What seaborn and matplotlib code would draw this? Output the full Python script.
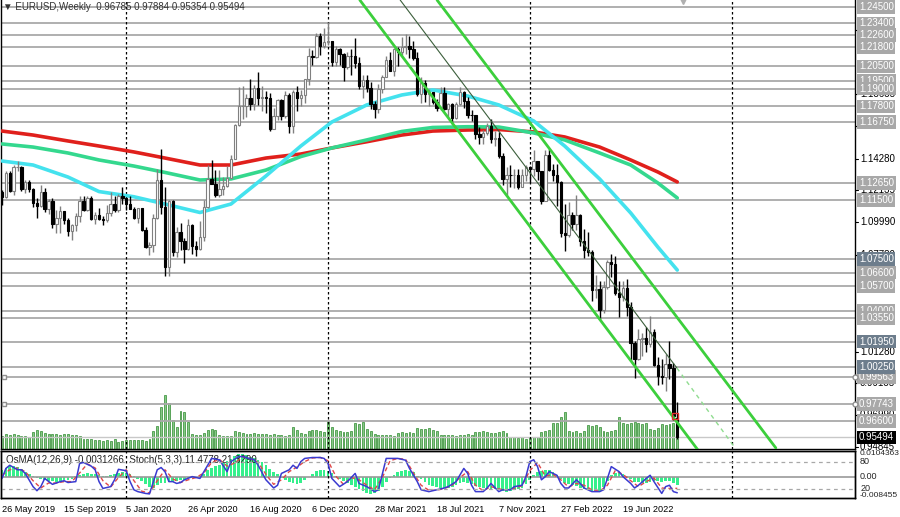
import numpy as np
import pandas as pd
import matplotlib
matplotlib.use("Agg")
import matplotlib.pyplot as plt
import matplotlib.transforms as mtransforms
import seaborn as sns

# ---------------- data ----------------
start_week = "2019-05-26"
opens = [
 1.1205, 1.1169, 1.1333, 1.1210, 1.1370, 1.1372, 1.1225, 1.1270, 1.1220, 1.1127,
 1.1108, 1.1200, 1.1090, 1.1143, 1.0990, 1.1030, 1.1075, 1.1017, 1.0940, 1.0978,
 1.1040, 1.1143, 1.1080, 1.1165, 1.1020, 1.1050, 1.1020, 1.1017, 1.1060, 1.1120,
 1.1080, 1.1175, 1.1160, 1.1120, 1.1090, 1.1025, 1.1093, 1.0945, 1.0830, 1.0848,
 1.1025, 1.1285, 1.1105, 1.0700, 1.1140, 1.0800, 1.0935, 1.0875, 1.0820, 1.0980,
 1.0840, 1.0820, 1.0900, 1.1100, 1.1290, 1.1255, 1.1180, 1.1220, 1.1245, 1.1300,
 1.1425, 1.1655, 1.1780, 1.1785, 1.1840, 1.1795, 1.1905, 1.1840, 1.1845, 1.1840,
 1.1630, 1.1715, 1.1825, 1.1715, 1.1860, 1.1645, 1.1875, 1.1835, 1.1860, 1.1965,
 1.2120, 1.2110, 1.2255, 1.2185, 1.2215, 1.2220, 1.2080, 1.2170, 1.2135, 1.2045,
 1.2120, 1.2118, 1.2075, 1.1915, 1.1955, 1.1905, 1.1795, 1.1760, 1.1900, 1.1980,
 1.2095, 1.2020, 1.2165, 1.2145, 1.2180, 1.2190, 1.2165, 1.2105, 1.1865, 1.1935,
 1.1865, 1.1875, 1.1810, 1.1770, 1.1870, 1.1760, 1.1795, 1.1700, 1.1795, 1.1880,
 1.1815, 1.1725, 1.1720, 1.1595, 1.1575, 1.1600, 1.1645, 1.1560, 1.1570, 1.1445,
 1.1290, 1.1320, 1.1315, 1.1317, 1.1240, 1.1320, 1.1370, 1.1360, 1.1410, 1.1345,
 1.1145, 1.1450, 1.1350, 1.1320, 1.1270, 1.0930, 1.0910, 1.1050, 1.0985, 1.1045,
 1.0875, 1.0810, 1.0800, 1.0545, 1.0550, 1.0410, 1.0560, 1.0730, 1.0720, 1.0520,
 1.0495, 1.0555, 1.0425, 1.0185, 1.0080, 1.0210, 1.0220, 1.0180, 1.0260, 1.0035,
 0.9965, 0.9955, 1.0045, 1.0015, 0.96785]
highs = [
 1.1215, 1.1348, 1.1348, 1.1386, 1.1412, 1.1377, 1.1286, 1.1282, 1.1227, 1.1165,
 1.1250, 1.1230, 1.1153, 1.1165, 1.1085, 1.1109, 1.1076, 1.1026, 1.0990, 1.1063,
 1.1179, 1.1179, 1.1175, 1.1176, 1.1065, 1.1097, 1.1040, 1.1117, 1.1200, 1.1175,
 1.1190, 1.1239, 1.1172, 1.1173, 1.1102, 1.1096, 1.1095, 1.0965, 1.0863, 1.1054,
 1.1355, 1.1496, 1.1237, 1.1147, 1.1147, 1.0969, 1.0991, 1.0890, 1.1019, 1.0990,
 1.0875, 1.1009, 1.1147, 1.1384, 1.1422, 1.1349, 1.1349, 1.1303, 1.1375, 1.1452,
 1.1659, 1.1908, 1.1916, 1.1865, 1.1966, 1.1925, 1.2011, 1.1917, 1.1883, 1.1873,
 1.1770, 1.1833, 1.1829, 1.1881, 1.1871, 1.1891, 1.1920, 1.1891, 1.1966, 1.2177,
 1.2163, 1.2273, 1.2274, 1.2310, 1.2349, 1.2222, 1.2189, 1.2177, 1.2143, 1.2150,
 1.2168, 1.2243, 1.2114, 1.1990, 1.1990, 1.1944, 1.1815, 1.1928, 1.1994, 1.2117,
 1.2150, 1.2171, 1.2182, 1.2245, 1.2266, 1.2254, 1.2218, 1.2146, 1.1975, 1.1960,
 1.1894, 1.1880, 1.1829, 1.1909, 1.1908, 1.1803, 1.1805, 1.1808, 1.1910, 1.1885,
 1.1845, 1.1753, 1.1724, 1.1640, 1.1624, 1.1669, 1.1692, 1.1617, 1.1609, 1.1464,
 1.1374, 1.1383, 1.1355, 1.1360, 1.1360, 1.1386, 1.1376, 1.1483, 1.1415, 1.1348,
 1.1483, 1.1495, 1.1395, 1.1390, 1.1275, 1.1121, 1.1137, 1.1070, 1.1185, 1.1054,
 1.0955, 1.0936, 1.0810, 1.0642, 1.0600, 1.0606, 1.0748, 1.0787, 1.0774, 1.0601,
 1.0606, 1.0615, 1.0464, 1.0201, 1.0278, 1.0254, 1.0294, 1.0368, 1.0280, 1.0090,
 1.0079, 1.0113, 1.0198, 1.0050, 0.97884]
lows = [
 1.1116, 1.1165, 1.1201, 1.1181, 1.1345, 1.1207, 1.1193, 1.1201, 1.1101, 1.1027,
 1.1105, 1.1066, 1.1052, 1.0960, 1.0926, 1.0927, 1.0990, 1.0905, 1.0879, 1.0942,
 1.1001, 1.1072, 1.1073, 1.1013, 1.0989, 1.1014, 1.0981, 1.1003, 1.1040, 1.1066,
 1.1068, 1.1125, 1.1085, 1.1086, 1.1019, 1.0992, 1.0940, 1.0827, 1.0778, 1.0798,
 1.1020, 1.1055, 1.0636, 1.0637, 1.0770, 1.0768, 1.0812, 1.0727, 1.0812, 1.0782,
 1.0775, 1.0815, 1.0870, 1.1097, 1.1255, 1.1168, 1.1168, 1.1185, 1.1240, 1.1295,
 1.1423, 1.1650, 1.1696, 1.1711, 1.1753, 1.1753, 1.1789, 1.1752, 1.1737, 1.1612,
 1.1626, 1.1688, 1.1689, 1.1702, 1.1603, 1.1603, 1.1746, 1.1781, 1.1800, 1.1923,
 1.2059, 1.2107, 1.2129, 1.2171, 1.2191, 1.2054, 1.2055, 1.2058, 1.1952, 1.2035,
 1.1992, 1.2040, 1.1894, 1.1836, 1.1874, 1.1762, 1.1704, 1.1738, 1.1868, 1.1975,
 1.2018, 1.1986, 1.2052, 1.2124, 1.2134, 1.2104, 1.2093, 1.1847, 1.1803, 1.1807,
 1.1781, 1.1795, 1.1752, 1.1755, 1.1759, 1.1706, 1.1664, 1.1692, 1.1791, 1.1772,
 1.1700, 1.1684, 1.1563, 1.1529, 1.1524, 1.1588, 1.1535, 1.1513, 1.1432, 1.1250,
 1.1186, 1.1235, 1.1227, 1.1222, 1.1235, 1.1275, 1.1272, 1.1313, 1.1286, 1.1121,
 1.1140, 1.1342, 1.1280, 1.1106, 1.0900, 1.0806, 1.0900, 1.0945, 1.0945, 1.0837,
 1.0757, 1.0770, 1.0471, 1.0492, 1.0350, 1.0390, 1.0550, 1.0627, 1.0510, 1.0359,
 1.0469, 1.0366, 1.0072, 0.9952, 1.0073, 1.0097, 1.0123, 1.0160, 1.0033, 0.9900,
 0.9910, 0.9864, 0.9944, 0.9666, 0.95354]
closes = [
 1.1169, 1.1333, 1.1210, 1.1370, 1.1372, 1.1225, 1.1270, 1.1220, 1.1127, 1.1108,
 1.1200, 1.1090, 1.1143, 1.0990, 1.1030, 1.1075, 1.1017, 1.0940, 1.0978, 1.1040,
 1.1143, 1.1080, 1.1165, 1.1020, 1.1050, 1.1020, 1.1017, 1.1060, 1.1120, 1.1080,
 1.1175, 1.1160, 1.1120, 1.1090, 1.1025, 1.1093, 1.0945, 1.0830, 1.0848, 1.1025,
 1.1285, 1.1105, 1.0700, 1.1140, 1.0800, 1.0935, 1.0875, 1.0820, 1.0980, 1.0840,
 1.0820, 1.0900, 1.1100, 1.1290, 1.1255, 1.1180, 1.1220, 1.1245, 1.1300, 1.1425,
 1.1655, 1.1780, 1.1785, 1.1840, 1.1795, 1.1905, 1.1840, 1.1845, 1.1840, 1.1630,
 1.1715, 1.1825, 1.1715, 1.1860, 1.1645, 1.1875, 1.1835, 1.1860, 1.1965, 1.2120,
 1.2110, 1.2255, 1.2185, 1.2215, 1.2220, 1.2080, 1.2170, 1.2135, 1.2045, 1.2120,
 1.2118, 1.2075, 1.1915, 1.1955, 1.1905, 1.1795, 1.1760, 1.1900, 1.1980, 1.2095,
 1.2020, 1.2165, 1.2145, 1.2180, 1.2190, 1.2165, 1.2105, 1.1865, 1.1935, 1.1865,
 1.1875, 1.1810, 1.1770, 1.1870, 1.1760, 1.1795, 1.1700, 1.1795, 1.1880, 1.1815,
 1.1725, 1.1720, 1.1595, 1.1575, 1.1600, 1.1645, 1.1560, 1.1570, 1.1445, 1.1290,
 1.1320, 1.1315, 1.1317, 1.1240, 1.1320, 1.1370, 1.1360, 1.1410, 1.1345, 1.1145,
 1.1450, 1.1350, 1.1320, 1.1270, 1.0930, 1.0910, 1.1050, 1.0985, 1.1045, 1.0875,
 1.0810, 1.0800, 1.0545, 1.0550, 1.0410, 1.0560, 1.0730, 1.0720, 1.0520, 1.0495,
 1.0555, 1.0425, 1.0185, 1.0080, 1.0210, 1.0220, 1.0180, 1.0260, 1.0035, 0.9965,
 0.9955, 1.0045, 1.0015, 0.9690, 0.95494]
tick_volume = [
 13, 15, 14, 15, 14, 13, 13, 12, 17, 19,
 18, 16, 15, 15, 15, 14, 15, 15, 14, 14,
 13, 10, 10, 10, 9, 9, 8, 9, 8, 10,
 7, 8, 9, 9, 9, 9, 9, 8, 10, 18,
 23, 42, 54, 46, 29, 22, 38, 37, 27, 15,
 14, 14, 16, 19, 20, 19, 14, 13, 13, 13,
 18, 17, 16, 15, 15, 16, 15, 15, 15, 14,
 15, 14, 14, 13, 14, 22, 19, 16, 15, 18,
 19, 19, 18, 17, 28, 22, 19, 18, 17, 17,
 18, 26, 25, 27, 20, 18, 15, 14, 14, 14,
 14, 13, 16, 17, 16, 17, 16, 21, 20, 20,
 21, 19, 18, 14, 14, 14, 14, 13, 14, 14,
 15, 14, 17, 17, 18, 17, 16, 16, 17, 18,
 16, 12, 12, 11, 12, 10, 12, 12, 12, 17,
 18, 19, 26, 26, 32, 37, 18, 17, 18, 16,
 18, 24, 23, 24, 22, 18, 17, 18, 19, 32,
 26, 25, 26, 27, 26, 25, 26, 20, 19, 21,
 25, 24, 25, 26, 25]
osma_milli = [
 3.0, 3.8, 4.4, 4.6, 4.2, 3.2, 2.0, 1.0, 0.2, -0.6,
 -1.0, -1.4, -1.6, -1.8, -1.9, -1.6, -1.4, -1.2, -0.8, 0.2,
 0.8, 1.2, 1.4, 1.2, 1.0, 0.6, 0.3, 0.4, 0.8, 1.2,
 1.5, 1.8, 1.6, 1.0, 0.2, -0.8, -1.8, -3.0, -4.2, -4.6,
 -3.4, -2.4, -2.6, -2.0, -2.2, -1.8, -1.4, -1.2, -0.6, -0.5,
 -0.4, 0.2, 1.2, 2.6, 3.8, 4.4, 5.0, 5.6, 6.4, 7.4,
 8.6, 9.2, 9.2, 8.8, 8.2, 7.6, 6.8, 6.0, 4.8, 3.4,
 2.0, 1.0, -0.4, -1.4, -2.2, -2.6, -2.8, -2.4, -1.4, -0.2,
 1.2, 2.2, 2.6, 2.6, 2.4, 1.4, 0.4, -0.8, -1.8, -2.6,
 -3.4, -4.2, -5.0, -5.8, -6.4, -6.8, -6.6, -5.6, -4.0, -2.2,
 -0.6, 0.8, 1.8, 2.4, 2.6, 2.4, 1.8, 0.4, -1.0, -2.2,
 -3.2, -3.8, -4.2, -4.4, -4.6, -4.4, -4.0, -3.2, -2.4, -2.2,
 -2.4, -3.0, -3.6, -4.2, -4.6, -4.6, -4.8, -5.0, -5.4, -5.8,
 -6.0, -5.8, -5.4, -5.0, -4.4, -3.0, -1.2, 0.8, 1.8, 2.2,
 2.8, 2.6, 2.0, 0.8, -1.0, -2.4, -3.0, -3.4, -3.8, -4.4,
 -5.0, -5.4, -5.8, -5.8, -5.6, -4.0, -1.6, 0.6, 1.4, 1.6,
 1.2, 0.4, -1.0, -2.0, -2.2, -2.4, -2.4, -2.0, -1.6, -1.8,
 -2.0, -1.6, -1.6, -2.4, -3.1]

# moving averages read at selected weeks
ma_week = [0, 8, 17, 25, 34, 42, 51, 59, 68, 77, 85, 94, 103, 111, 120, 128, 137, 145, 154, 162, 169, 174]
ma_red = [1.1614, 1.1587, 1.1547, 1.1513, 1.1473, 1.1432, 1.1385, 1.1385, 1.1432, 1.1459, 1.1500,
          1.1542, 1.1587, 1.1614, 1.1621, 1.1624, 1.1608, 1.1574, 1.1506, 1.1419, 1.1338, 1.1271]
ma_green = [1.1527, 1.1506, 1.1466, 1.1419, 1.1378, 1.1335, 1.1284, 1.1291, 1.1351, 1.1442, 1.1500,
            1.1554, 1.1611, 1.1638, 1.1643, 1.1641, 1.1601, 1.1554, 1.1466, 1.1385, 1.1264, 1.1163]
ma_cyan = [1.1412, 1.1385, 1.1304, 1.1206, 1.1171, 1.1122, 1.1065, 1.1122, 1.1311, 1.1513, 1.1675,
           1.1790, 1.1857, 1.1891, 1.1850, 1.1790, 1.1682, 1.1513, 1.1291, 1.1062, 1.0832, 1.0677]

# stochastic (main / signal) read at selected weeks
stoch_week = [0, 1, 2, 4, 5, 6, 8, 9, 10, 11, 13, 15, 16, 17, 19, 20, 21, 23, 24, 25, 26, 28, 29, 30,
              32, 33, 34, 35, 37, 38, 40, 41, 42, 43, 44, 45, 46, 47, 49, 50, 51, 53, 54, 56, 58, 59,
              61, 62, 65, 66, 68, 70, 71, 72, 74, 75, 76, 77, 78, 80, 82, 83, 84, 85, 87, 89, 91, 92,
              94, 96, 97, 99, 101, 102, 104, 105, 107, 108, 110, 112, 114, 115, 117, 119, 120, 121,
              122, 124, 125, 126, 128, 129, 131, 132, 134, 135, 136, 137, 138, 139, 140, 141, 143,
              144, 145, 146, 148, 149, 150, 152, 154, 155, 156, 157, 159, 160, 162, 163, 164, 166,
              167, 168, 170, 171, 172, 173, 174]
stoch_main = [43, 65, 72, 62, 62, 54, 25, 16, 25, 43, 30, 36, 38, 34, 36, 76, 78, 70, 62, 36, 21, 25,
              40, 63, 60, 36, 18, 14, 10, 9, 62, 67, 58, 36, 36, 32, 34, 40, 47, 45, 43, 72, 87, 84,
              58, 80, 91, 91, 84, 72, 40, 22, 28, 54, 62, 72, 65, 80, 87, 89, 89, 87, 76, 43, 25, 36,
              54, 32, 25, 14, 18, 87, 87, 87, 83, 65, 36, 18, 14, 18, 22, 25, 36, 65, 54, 28, 14, 14,
              22, 32, 14, 18, 18, 25, 28, 47, 80, 84, 69, 40, 47, 58, 50, 32, 22, 22, 40, 32, 22, 14,
              14, 18, 43, 69, 58, 47, 32, 22, 28, 43, 50, 36, 10, 25, 28, 14, 11.48]
signal_week = [0, 2, 4, 6, 8, 10, 12, 14, 16, 18, 20, 22, 24, 26, 28, 30, 32, 34, 36, 38, 40, 42, 44,
               46, 48, 50, 52, 54, 56, 58, 60, 62, 64, 66, 68, 70, 72, 74, 76, 78, 80, 82, 84, 86, 88,
               90, 92, 94, 96, 98, 100, 102, 104, 106, 108, 110, 112, 114, 116, 118, 120, 122, 124,
               126, 128, 130, 132, 134, 136, 138, 140, 142, 144, 146, 148, 150, 152, 154, 156, 158,
               160, 162, 164, 166, 168, 170, 172, 174]
stoch_signal = [50, 62, 66, 58, 38, 22, 33, 33, 36, 36, 55, 75, 66, 38, 24, 45, 62, 38, 15, 11, 38, 62,
                42, 34, 40, 45, 55, 78, 85, 70, 77, 90, 87, 78, 52, 30, 40, 58, 68, 80, 88, 89, 82,
                48, 30, 45, 40, 28, 18, 45, 82, 87, 85, 55, 28, 17, 17, 21, 28, 45, 58, 28, 16, 25,
                20, 18, 21, 27, 60, 78, 48, 52, 40, 24, 32, 28, 18, 15, 28, 60, 52, 38, 25, 36, 44,
                22, 21, 21.33]

# drawn objects: level lines and channel
levels_light = [1.2450, 1.2340, 1.2260, 1.2180, 1.2050, 1.1950, 1.1900, 1.1780, 1.1675, 1.1265,
                1.1150, 1.0660, 1.0570, 1.0400, 1.0355, 0.99563, 0.97743, 0.9660]
levels_dark = [1.0750, 1.0195, 1.0025]
last_price = 0.95494
scale_labels = [1.22940, 1.18635, 1.16450, 1.14280, 1.12135, 1.09990, 1.07780,
                1.01280, 0.99135, 0.96990, 0.94845]
channel_low = ([92.2, 179.3], [1.2497, 0.9465])
channel_high = ([112.1, 199.4], [1.2497, 0.9478])
trend_solid = ([102.6, 173.9], [1.2497, 1.0017])
trend_dash = ([173.9, 188.9], [1.0017, 0.9478])
year_weeks = [32, 84, 136, 188]
label_weeks = [0, 16, 32, 48, 64, 80, 96, 112, 128, 144, 160]

n = len(closes)
for arr in (opens, highs, lows, tick_volume, osma_milli):
    assert len(arr) == n, len(arr)
assert len(stoch_week) == len(stoch_main), (len(stoch_week), len(stoch_main))
assert len(signal_week) == len(stoch_signal), (len(signal_week), len(stoch_signal))

weeks = pd.date_range(start_week, periods=n, freq="7D")
idx = np.arange(n)
date_labels = [f"{weeks[i].day} {weeks[i].strftime('%b %Y')}" for i in label_weeks]

# ---------------- figure ----------------
sns.set_theme(style="white")
plt.rcParams['font.family'] = ['Liberation Sans', 'DejaVu Sans']
W, H = 900, 517
fig = plt.figure(figsize=(W / 100, H / 100), dpi=100)
fig.patch.set_facecolor("white")

main_rect = [1 / W, (H - 449) / H, 854 / W, 449 / H]
osc_rect = [1 / W, (H - 498) / H, 854 / W, 47 / H]
XL = (-0.26, 219.8)
YL = (0.94709, 1.24972)

ax_vol = fig.add_axes(main_rect)
ax = fig.add_axes(main_rect)
ax.set_facecolor("none")
ax_osc = fig.add_axes(osc_rect)
ax_st = ax_osc.twinx()

# volumes
vol_df = pd.DataFrame({"week": idx, "vol": tick_volume})
sns.barplot(data=vol_df, x="week", y="vol", native_scale=True, ax=ax_vol,
            color="#86c886", edgecolor="#2f8a2f", linewidth=0.5, width=0.5,
            errorbar=None, saturation=1)
ax_vol.set_xlim(*XL)
ax_vol.set_ylim(0, 449)
ax_vol.axis("off")

# level lines
for p in levels_light + levels_dark:
    ax.axhline(p, color="#a9a9a9", lw=1.3, zorder=1)
ax.axhline(last_price, color="#c8c8c8", lw=1.0, zorder=1)

# moving averages
ma_df = pd.DataFrame({"week": ma_week, "red": ma_red, "green": ma_green, "cyan": ma_cyan})
sns.lineplot(data=ma_df, x="week", y="red", ax=ax, color="#e0201c", lw=2.6, zorder=3)
sns.lineplot(data=ma_df, x="week", y="green", ax=ax, color="#34d88e", lw=2.6, zorder=3)
sns.lineplot(data=ma_df, x="week", y="cyan", ax=ax, color="#44e2ee", lw=2.6, zorder=3)

# candles
o = np.array(opens); h = np.array(highs); l = np.array(lows); c = np.array(closes)
bull = c >= o
wick_col = np.where(bull, "#808080", "#000000")
ax.vlines(idx, l, h, colors=wick_col, lw=1.0, zorder=4)
body_bottom = np.minimum(o, c)
body_h = np.maximum(np.abs(c - o), 0.0002)
ax.bar(idx[bull], body_h[bull], bottom=body_bottom[bull], width=0.62,
       color="white", edgecolor="#808080", linewidth=0.8, zorder=5)
ax.bar(idx[~bull], body_h[~bull], bottom=body_bottom[~bull], width=0.62,
       color="black", edgecolor="black", linewidth=0.8, zorder=5)

# channel and trend lines
ax.plot(*channel_low, color="#3ccf3c", lw=2.0, zorder=6)
ax.plot(*channel_high, color="#3ccf3c", lw=2.0, zorder=6)
ax.plot(*trend_solid, color="#3b5e3b", lw=0.8, zorder=6)
ax.plot(*trend_dash, color="#8fdc8f", lw=1.0, ls=(0, (3, 3)), zorder=6)
ax.plot([173.4], [0.9690], marker="s", ms=5, mfc="none", mec="#e03030", mew=1.0, zorder=7)

# year separators
for w in year_weeks:
    ax.axvline(w, color="black", lw=0.9, ls=(0, (2, 2)), zorder=2)
    ax_osc.axvline(w, color="black", lw=0.9, ls=(0, (2, 2)), zorder=2)

ax.set_xlim(*XL)
ax.set_ylim(*YL)
ax.set_xticks([]); ax.set_yticks([])
ax.set_xlabel(""); ax.set_ylabel("")
for s in ax.spines.values():
    s.set_color("black"); s.set_linewidth(1.0)
ax.spines["top"].set_visible(False)

# right price scale
tr = mtransforms.blended_transform_factory(ax.transAxes, ax.transData)
for p in scale_labels:
    ax.plot([1.0, 1.004], [p, p], color="black", lw=0.8, transform=tr, clip_on=False, zorder=3)
    ax.text(1.006, p, f"{p:.5f}", transform=tr, fontsize=7, color="black",
            va="center", ha="left", clip_on=False, zorder=3)
for p in levels_light:
    ax.text(1.0045, p, f"{p:.5f}", transform=tr, fontsize=7, color="white",
            va="center", ha="left", clip_on=False, zorder=8,
            bbox=dict(boxstyle="square,pad=0.18", fc="#a8a8a8", ec="none"))
for p in levels_dark:
    ax.text(1.0045, p, f"{p:.5f}", transform=tr, fontsize=7, color="white",
            va="center", ha="left", clip_on=False, zorder=8,
            bbox=dict(boxstyle="square,pad=0.18", fc="#6d7d8c", ec="none"))
ax.text(1.0045, last_price, f"{last_price:.5f}", transform=tr, fontsize=7, color="white",
        va="center", ha="left", clip_on=False, zorder=9,
        bbox=dict(boxstyle="square,pad=0.18", fc="black", ec="none"))
for p in (0.99563, 0.97743):
    ax.plot([1.0], [p], transform=tr, marker="o", ms=3.5, mfc="white", mec="#909090",
            clip_on=False, zorder=9)
    ax.plot([0.004], [p], transform=tr, marker="s", ms=3, mfc="white", mec="#909090",
            clip_on=False, zorder=9)
ax.plot([175.5], [YL[1]], marker="v", ms=6, color="#b0b0b0", clip_on=False, zorder=9)

# title
fig.text(3 / W, 1 - 7 / H, "\u25bc EURUSD,Weekly  0.96785 0.97884 0.95354 0.95494",
         fontsize=7, color="#333333", va="center", ha="left")

# ---------------- oscillator ----------------
os_df = pd.DataFrame({"week": idx, "osma": osma_milli})
sns.barplot(data=os_df, x="week", y="osma", native_scale=True, ax=ax_osc,
            color="#35f08c", width=0.7, errorbar=None, saturation=1, linewidth=0)
ax_osc.axhline(0, color="#9a9a9a", lw=1.2, zorder=1)
ax_osc.set_ylim(-8.455, 10.4363)
ax_osc.set_xlim(*XL)
ax_osc.set_yticks([])
ax_osc.set_xlabel(""); ax_osc.set_ylabel("")

st_df = pd.DataFrame({"week": stoch_week, "main": stoch_main})
sg_df = pd.DataFrame({"week": signal_week, "signal": stoch_signal})
sns.lineplot(data=sg_df, x="week", y="signal", ax=ax_st, color="#e04848", lw=1.0,
             linestyle=(0, (3, 2)))
sns.lineplot(data=st_df, x="week", y="main", ax=ax_st, color="#3a3ad0", lw=1.1)
for lv in (80, 20):
    ax_st.axhline(lv, color="#a8a8a8", lw=0.9, ls=(0, (3, 3)))
ax_st.set_ylim(0, 103.3)
ax_st.set_xlim(*XL)
ax_st.set_yticks([])
ax_st.set_xlabel(""); ax_st.set_ylabel("")
for a in (ax_osc, ax_st):
    for s in a.spines.values():
        s.set_color("black"); s.set_linewidth(1.0)

ax_osc.set_xticks(label_weeks)
ax_osc.set_xticklabels(date_labels, fontsize=6.6, color="black")
for lbl in ax_osc.get_xticklabels():
    lbl.set_ha("left")
ax_osc.tick_params(axis="x", direction="out", length=3, width=0.8, pad=2, color="black")

ax_osc.text(0.006, 0.80, "OsMA(12,26,9) -0.0031266  Stoch(5,3,3) 11.4778 21.3290",
            transform=ax_osc.transAxes, fontsize=7, color="#222222", va="center", ha="left")

tro = mtransforms.blended_transform_factory(ax_osc.transAxes, ax_osc.transData)
trs = mtransforms.blended_transform_factory(ax_st.transAxes, ax_st.transData)
ax_osc.text(1.006, 9.6, "0.0104363", transform=tro, fontsize=6, va="center", ha="left", clip_on=False)
ax_osc.text(1.006, 0, "0.00", transform=tro, fontsize=6.5, va="center", ha="left", clip_on=False)
ax_osc.text(1.006, -7.6, "-0.008455", transform=tro, fontsize=6, va="center", ha="left", clip_on=False)
ax_st.text(1.006, 80, "80", transform=trs, fontsize=6.5, va="center", ha="left", clip_on=False)
ax_st.text(1.006, 20, "20", transform=trs, fontsize=6.5, va="center", ha="left", clip_on=False)

fig.savefig("out.png", dpi=100, facecolor="white")
